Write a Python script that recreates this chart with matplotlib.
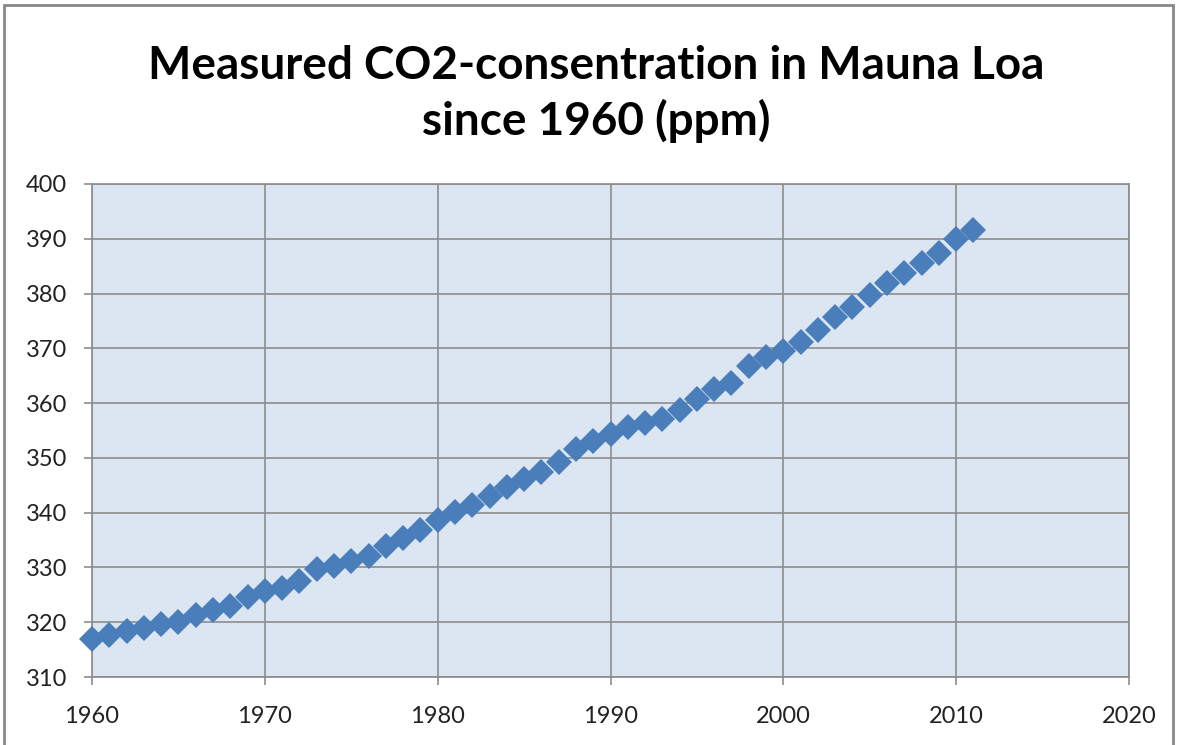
import matplotlib
matplotlib.use("Agg")
import matplotlib.pyplot as plt
from matplotlib.patches import Rectangle

plt.rcParams['font.family'] = ['Lato', 'DejaVu Sans']

years = list(range(1960, 2012))
co2 = [316.91, 317.64, 318.45, 318.99, 319.62, 320.04, 321.38, 322.16, 323.04, 324.62,
       325.68, 326.32, 327.45, 329.68, 330.18, 331.11, 332.04, 333.83, 335.40, 336.84,
       338.75, 340.11, 341.45, 343.05, 344.65, 346.12, 347.42, 349.19, 351.57, 353.12,
       354.39, 355.61, 356.45, 357.10, 358.83, 360.82, 362.61, 363.73, 366.70, 368.38,
       369.55, 371.14, 373.28, 375.80, 377.52, 379.80, 381.90, 383.79, 385.60, 387.43,
       389.90, 391.65]

x_ticks = [1960, 1970, 1980, 1990, 2000, 2010, 2020]
y_ticks = [310, 320, 330, 340, 350, 360, 370, 380, 390, 400]

fig = plt.figure(figsize=(11.79, 7.45), dpi=100)
ax = fig.add_axes([92/1179, 1 - 677/745, (1129-92)/1179, (677-184)/745])

ax.set_facecolor('#DCE6F2')
ax.plot(years, co2, linestyle='none', marker='D', markersize=13,
        color='#4A7EBB', markeredgewidth=0, clip_on=False, zorder=3)

ax.set_xlim(1960, 2020)
ax.set_ylim(310, 400)
ax.set_xticks(x_ticks)
ax.set_yticks(y_ticks)
ax.grid(True, color='#8C8C8C', linewidth=1.2)
ax.set_axisbelow(True)
for s in ax.spines.values():
    s.set_color('#8C8C8C')
    s.set_linewidth(1.2)
ax.tick_params(axis='both', length=6, width=1.2, color='#8C8C8C',
               labelsize=17, labelcolor='#222222')
ax.tick_params(axis='x', pad=15)
ax.tick_params(axis='y', pad=12)

fig.text(0.506, 0.874, "Measured CO2-consentration in Mauna Loa\nsince 1960 (ppm)",
         ha='center', va='center', fontsize=33, fontweight='bold',
         linespacing=1.33, color='black')

fig.patches.append(Rectangle((4/1179, -0.05), (1173-4)/1179, 1.05 - 5/745,
                             transform=fig.transFigure, fill=False,
                             edgecolor='#888888', linewidth=2))

fig.savefig("out.png", dpi=100)
